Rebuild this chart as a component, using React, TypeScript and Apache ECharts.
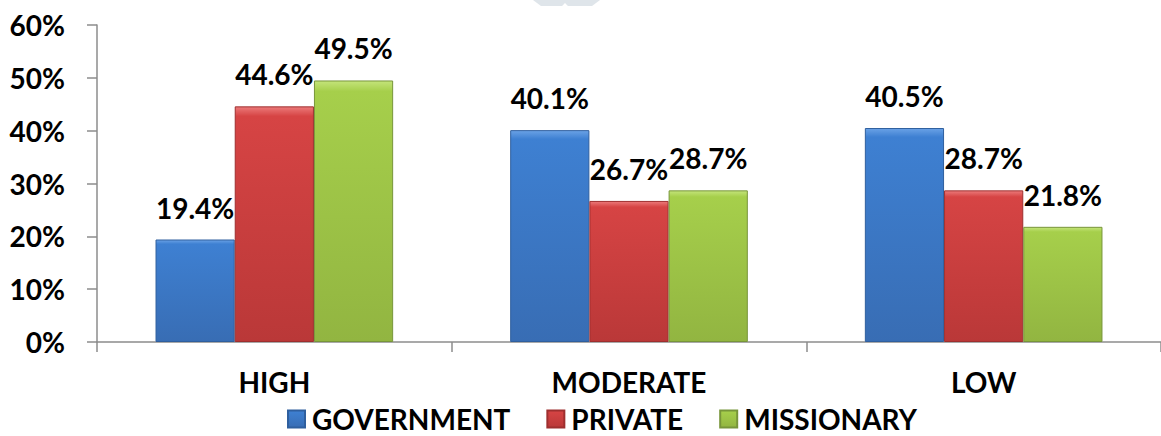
import React, { useEffect, useRef } from "react";
import * as echarts from "echarts";

const categories = ["HIGH", "MODERATE", "LOW"];
const seriesNames = ["GOVERNMENT", "PRIVATE", "MISSIONARY"];
const government = [19.4, 40.1, 40.5];
const privateSchools = [44.6, 26.7, 28.7];
const missionary = [49.5, 28.7, 21.8];
const yTicks = [0, 10, 20, 30, 40, 50, 60];

const FONT = "Lato";
const WEIGHT = "bold";

function grad(top: string, mid: string, bottom: string) {
  return new echarts.graphic.LinearGradient(0, 0, 0, 1, [
    { offset: 0, color: top },
    { offset: 0.04, color: mid },
    { offset: 1, color: bottom },
  ]);
}

export default function App() {
  const ref = useRef<HTMLDivElement>(null);
  useEffect(() => {
    if (!ref.current) return;
    const chart = echarts.init(ref.current, null, { renderer: "svg" });
    const colors = [
      { main: "#3e80d2", top: "#6aa2e6", bottom: "#386db4", border: "#2f5f9e" },
      { main: "#d64444", top: "#ec7a7a", bottom: "#ba3838", border: "#9e2f2f" },
      { main: "#a6cf4b", top: "#c4e47a", bottom: "#92b541", border: "#77953a" },
    ];
    const data = [government, privateSchools, missionary];
    chart.setOption({
      animation: false,
      textStyle: { fontFamily: FONT },
      graphic: [
        {
          type: "polygon",
          shape: {
            points: [
              [533, 0],
              [600, 0],
              [592, 6],
              [568, 6],
              [565, 3],
              [562, 6],
              [541, 6],
            ],
          },
          style: { fill: "#dfe5ea" },
          silent: true,
        },
      ],
      legend: {
        left: 287,
        top: 405,
        padding: 0,
        itemWidth: 17,
        itemHeight: 17,
        itemGap: 36,
        icon: "rect",
        textStyle: {
          fontFamily: FONT,
          fontWeight: WEIGHT,
          fontSize: 28,
          lineHeight: 26,
          color: "#000",
          padding: [0, 0, 0, 2],
        },
        data: seriesNames,
      },
      grid: { left: 97, top: 25, width: 1072.5, height: 317, containLabel: false },
      xAxis: {
        type: "category",
        data: categories,
        axisLine: { lineStyle: { color: "#8c8c8c", width: 1.5 } },
        axisTick: { show: true, length: 10, lineStyle: { color: "#8c8c8c", width: 1.5 } },
        axisLabel: {
          margin: 26,
          fontFamily: FONT,
          fontWeight: WEIGHT,
          fontSize: 28,
          color: "#000",
        },
      },
      yAxis: {
        type: "value",
        min: yTicks[0],
        max: yTicks[yTicks.length - 1],
        interval: 10,
        splitLine: { show: false },
        axisLine: { show: true, lineStyle: { color: "#8c8c8c", width: 1.5 } },
        axisTick: { show: true, length: 10, lineStyle: { color: "#8c8c8c", width: 1.5 } },
        axisLabel: {
          margin: 32,
          fontFamily: FONT,
          fontWeight: WEIGHT,
          fontSize: 28,
          color: "#000",
          formatter: (v: number) => v + "%",
        },
      },
      series: seriesNames.map((name, i) => ({
        name,
        type: "bar",
        data: data[i],
        barGap: "0%",
        barCategoryGap: "33%",
        itemStyle: {
          color: grad(colors[i].top, colors[i].main, colors[i].bottom),
          borderColor: colors[i].border,
          borderWidth: 1,
        },
        label: {
          show: true,
          position: "top",
          distance: 18,
          fontFamily: FONT,
          fontWeight: WEIGHT,
          fontSize: 28,
          color: "#000",
          formatter: (p: any) => p.value.toFixed(1) + "%",
        },
      })),
    });
    return () => chart.dispose();
  }, []);
  return (
    <div
      ref={ref}
      style={{ position: "fixed", left: 0, top: 0, width: 1161, height: 436, background: "#fff" }}
    />
  );
}
